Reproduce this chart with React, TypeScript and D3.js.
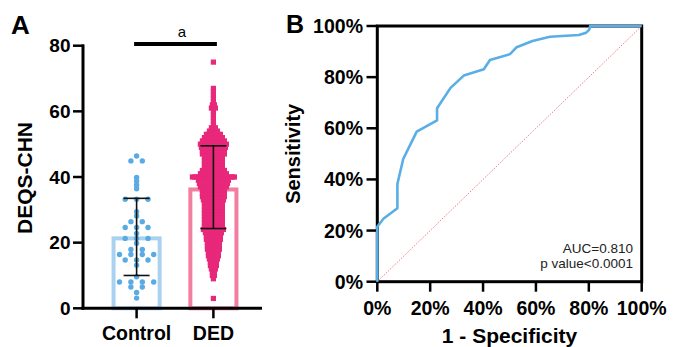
import React from "react";
import * as d3 from "d3";

// ---------- Panel A data ----------
const groups = ["Control", "DED"];
const barMeans = [21.3, 36.2];
const sdLow = [10.0, 24.3];
const sdHigh = [33.5, 49.5];
const yTicksA = [0, 20, 40, 60, 80];

const controlValues = [
  46.4, 44.9, 44.9, 39.9, 38.8, 37.6, 36.4, 33.2, 33.2, 33.2, 29.4, 28.1, 26.4, 26.4,
  24.6, 24.6, 24.6, 22.8, 21.3, 21.3, 21.3, 19.8, 17.9, 17.9, 16.4, 16.4, 16.4, 16.4,
  14.7, 14.7, 14.7, 13.1, 9.6, 8.0, 8.0, 8.0, 8.0, 6.5, 6.5, 4.8, 3.1,
];

const dedLevels = [
  3, 9, 10, 11, 12, 13, 14, 15, 16, 17, 18, 19, 20, 21, 22, 23, 24, 25, 26, 27, 28, 29, 30,
  31, 32, 33, 34, 35, 36, 37, 38, 39, 40, 41, 42, 43, 44, 45, 46, 47, 48, 49, 50, 51, 52,
  53, 54, 55, 56, 57, 58, 59, 60, 61, 62, 63, 64, 65, 66, 67, 75,
];
const dedCounts = [
  1, 1, 2, 2, 3, 4, 4, 5, 6, 6, 7, 7, 7, 8, 8, 9, 11, 10, 10, 10, 10, 10, 10,
  10, 10, 11, 12, 12, 12, 14, 15, 16, 22, 14, 12, 10, 10, 10, 10, 12, 12, 13, 14, 12, 10,
  8, 5, 3, 1, 1, 1, 1, 1, 3, 2, 1, 1, 1, 1, 1, 1,
];

// ---------- Panel B data ----------
const rocFpr = [0, 0, 2.3, 7.6, 7.6, 9.8, 14.9, 22.6, 22.6, 27.7, 32.7, 40.3, 42.6, 50.2, 52.7, 58.7, 65.3, 76.2, 79.0, 80.2, 80.5, 100];
const rocTpr = [0, 21.5, 24.6, 28.7, 38.2, 48.0, 58.7, 63.1, 67.8, 75.8, 80.6, 83.1, 86.7, 89.0, 91.7, 94.1, 95.8, 96.5, 97.4, 98.6, 100, 100];
const ticksB = [0, 20, 40, 60, 80, 100];
const aucText = ["AUC=0.810", "p value<0.0001"];

const FONT = "Arial, 'Liberation Sans', sans-serif";

export default function App() {
  // Panel A scales
  const yA = d3.scaleLinear().domain([0, 80]).range([308.3, 45.7]);
  const xA = d3.scaleBand().domain(groups).range([84, 266]).paddingInner(0.4).paddingOuter(0.385);
  const bw = xA.bandwidth();
  const cx = (g: string) => (xA(g) as number) + bw / 2;

  // control dot rows
  const ctrlGroups = d3.groups(controlValues, (v) => v);
  const ctrlDots: { x: number; y: number }[] = [];
  ctrlGroups.forEach(([v, arr]) => {
    const n = arr.length;
    arr.forEach((_, i) => ctrlDots.push({ x: cx("Control") + (i - (n - 1) / 2) * 11.4, y: yA(v) }));
  });

  const dedSquares: { x: number; y: number }[] = [];
  dedLevels.forEach((v, k) => {
    const n = dedCounts[k];
    for (let i = 0; i < n; i++) dedSquares.push({ x: cx("DED") + (i - (n - 1) / 2) * 2, y: yA(v) });
  });

  // Panel B scales
  const xB = d3.scaleLinear().domain([0, 100]).range([377.3, 641.7]);
  const yB = d3.scaleLinear().domain([0, 100]).range([281.7, 26]);
  const rocLine = d3
    .line<number>()
    .x((_, i) => xB(rocFpr[i]))
    .y((d) => yB(d));

  const barColors = ["#a9d2f1", "#f27ea0"];
  const whisk = 13;

  return (
    <svg width={678} height={347} style={{ position: "absolute", left: 0, top: 0, background: "#fff" }} fontFamily={FONT}>
      <rect width={678} height={347} fill="#fff" />
      {/* ---------------- Panel A ---------------- */}
      <text x={11} y={34} fontSize={26} fontWeight="bold">A</text>
      <text
        transform={`translate(24,${(yA(0) + yA(80)) / 2 + 1}) rotate(-90)`}
        textAnchor="middle"
        dominantBaseline="central"
        fontSize={21}
        fontWeight="bold"
      >
        DEQS-CHN
      </text>
      {yTicksA.map((t) => (
        <g key={t}>
          <line x1={73} x2={84} y1={yA(t)} y2={yA(t)} stroke="#000" strokeWidth={2.5} />
          <text x={70.5} y={yA(t)} textAnchor="end" dominantBaseline="central" fontSize={19} fontWeight="bold">
            {t}
          </text>
        </g>
      ))}
      {/* bars */}
      {groups.map((g, i) => (
        <rect
          key={g}
          x={(xA(g) as number)}
          y={yA(barMeans[i])}
          width={bw}
          height={yA(0) - yA(barMeans[i])}
          fill="#fff"
          stroke={barColors[i]}
          strokeWidth={4}
        />
      ))}
      {/* points */}
      {ctrlDots.map((d, i) => (
        <circle key={i} cx={d.x} cy={d.y} r={2.7} fill="#5aabe3" />
      ))}
      {dedSquares.map((d, i) => (
        <rect key={i} x={d.x - 2.6} y={d.y - 2.6} width={5.2} height={5.2} fill="#e8287a" />
      ))}
      {/* error bars */}
      {groups.map((g, i) => (
        <g key={g} stroke="#111" strokeWidth={1.6}>
          <line x1={cx(g)} x2={cx(g)} y1={yA(sdLow[i])} y2={yA(sdHigh[i])} />
          <line x1={cx(g) - whisk} x2={cx(g) + whisk} y1={yA(sdLow[i])} y2={yA(sdLow[i])} />
          <line x1={cx(g) - whisk} x2={cx(g) + whisk} y1={yA(sdHigh[i])} y2={yA(sdHigh[i])} />
        </g>
      ))}
      {/* axes */}
      <line x1={83} x2={83} y1={yA(80) - 1.2} y2={yA(0) + 1.2} stroke="#000" strokeWidth={3} />
      <line x1={81.5} x2={262} y1={yA(0)} y2={yA(0)} stroke="#000" strokeWidth={3} />
      {groups.map((g) => (
        <g key={g}>
          <line x1={cx(g)} x2={cx(g)} y1={yA(0)} y2={yA(0) + 10} stroke="#000" strokeWidth={2.5} />
          <text x={cx(g)} y={340} textAnchor="middle" fontSize={19.5} fontWeight="bold">
            {g}
          </text>
        </g>
      ))}
      {/* significance */}
      <line x1={cx("Control") - 2.5} x2={cx("DED") + 3.5} y1={44} y2={44} stroke="#000" strokeWidth={4} />
      <text x={182} y={37} textAnchor="middle" fontSize={15}>a</text>

      {/* ---------------- Panel B ---------------- */}
      <text x={286} y={33} fontSize={25} fontWeight="bold">B</text>
      <text
        transform={`translate(293,${(yB(0) + yB(100)) / 2}) rotate(-90)`}
        textAnchor="middle"
        dominantBaseline="central"
        fontSize={20}
        fontWeight="bold"
      >
        Sensitivity
      </text>
      <text x={(xB(0) + xB(100)) / 2} y={343} textAnchor="middle" fontSize={21} fontWeight="bold">
        1 - Specificity
      </text>
      {ticksB.map((t) => (
        <g key={"y" + t}>
          <line x1={366.5} x2={xB(0)} y1={yB(t)} y2={yB(t)} stroke="#000" strokeWidth={2.5} />
          <text x={363} y={yB(t)} textAnchor="end" dominantBaseline="central" fontSize={19.5} fontWeight="bold">
            {t}%
          </text>
        </g>
      ))}
      {ticksB.map((t) => (
        <g key={"x" + t}>
          <line x1={xB(t)} x2={xB(t)} y1={yB(0)} y2={yB(0) + 10} stroke="#000" strokeWidth={2.5} />
          <text x={xB(t)} y={315} textAnchor="middle" fontSize={19.5} fontWeight="bold">
            {t}%
          </text>
        </g>
      ))}
      <rect x={xB(0)} y={yB(100)} width={xB(100) - xB(0)} height={yB(0) - yB(100)} fill="none" stroke="#000" strokeWidth={3} />
      <line x1={xB(0)} y1={yB(0)} x2={xB(100)} y2={yB(100)} stroke="#f07a7a" strokeWidth={1} strokeDasharray="1.5,1.5" />
      <path d={rocLine(rocTpr) || ""} fill="none" stroke="#5aaee6" strokeWidth={2.6} strokeLinejoin="round" />
      {aucText.map((s, i) => (
        <text key={s} x={633} y={253 + i * 15} textAnchor="end" fontSize={13.5} fill="#222">
          {s}
        </text>
      ))}
    </svg>
  );
}
